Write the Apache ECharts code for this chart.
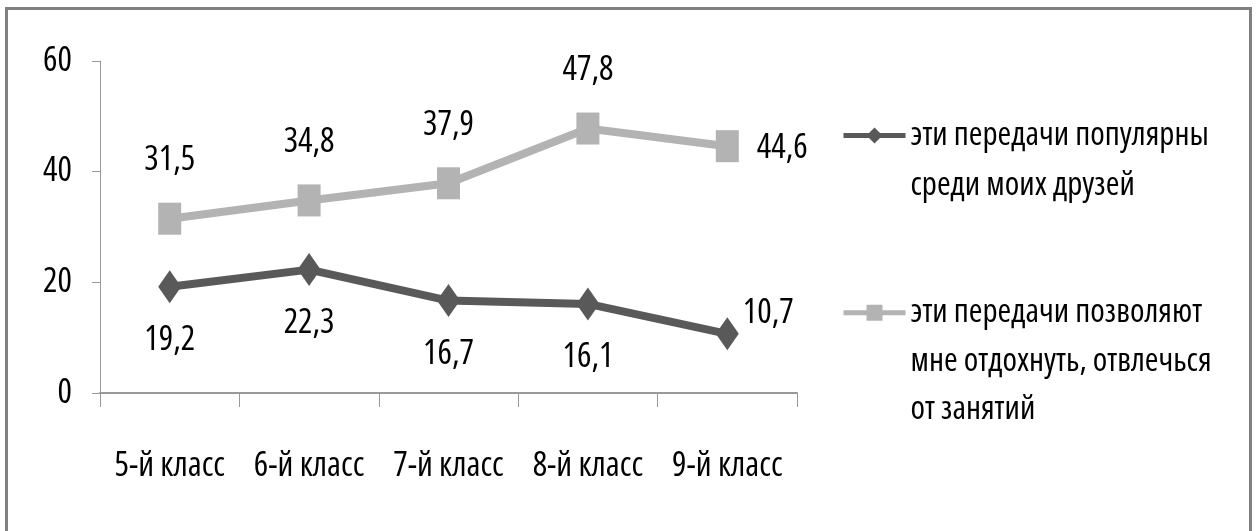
<!DOCTYPE html>
<html>
<head>
<meta charset="utf-8">
<script src="https://cdn.jsdelivr.net/npm/echarts@6/dist/echarts.min.js"></script>
<style>html,body{margin:0;padding:0;background:#fff}#c{width:1257px;height:531px}</style>
</head>
<body>
<div id="c"></div>
<script>
const categories = ['5-й класс', '6-й класс', '7-й класс', '8-й класс', '9-й класс'];
const popularValues = [19.2, 22.3, 16.7, 16.1, 10.7];
const relaxValues = [31.5, 34.8, 37.9, 47.8, 44.6];
const seriesNames = ['эти передачи популярны\nсреди моих друзей', 'эти передачи позволяют\nмне отдохнуть, отвлечься\nот занятий'];
const yTicks = [0, 20, 40, 60];

const FONT = 'Open Sans';
const STRETCH = 'condensed';
const DARK = '#595959', LIGHT = '#b3b3b3';
const fmt = p => String(p.value).replace('.', ',');

function buildData(values, lastLabel) {
  return values.map((v, i) => i === values.length - 1 ? { value: v, label: lastLabel } : { value: v });
}
// align the first legend line with the icon by padding the text block with leading blank lines
const legendFmt = name => '\n'.repeat(name.split('\n').length - 1) + name;

const txt = (size, extra) => Object.assign({ color: '#000', fontSize: size, fontFamily: FONT, fontStyle: STRETCH }, extra || {});

const chart = echarts.init(document.getElementById('c'));
chart.setOption({
  animation: false,
  graphic: [{
    type: 'rect', shape: { x: 6.5, y: 8.5, width: 1244, height: 540 },
    style: { fill: 'none', stroke: '#808080', lineWidth: 3 }, silent: true
  }],
  grid: { left: 100, top: 61, right: 460, bottom: 138 },
  xAxis: {
    type: 'category', data: categories, boundaryGap: true,
    axisLine: { lineStyle: { color: '#999', width: 2 } },
    axisTick: { show: true, length: 14, lineStyle: { color: '#999', width: 1 } },
    axisLabel: txt(34, { margin: 56, interval: 0 })
  },
  yAxis: {
    type: 'value', min: yTicks[0], max: yTicks[yTicks.length - 1], interval: 20,
    splitLine: { show: false },
    axisLine: { show: true, lineStyle: { color: '#999', width: 1 } },
    axisTick: { show: true, length: 8, lineStyle: { color: '#999' } },
    axisLabel: txt(34, { margin: 28 })
  },
  legend: [
    {
      left: 836, top: 53, orient: 'vertical', itemWidth: 62, itemHeight: 20,
      data: [seriesNames[0]], formatter: legendFmt,
      lineStyle: { width: 5 },
      textStyle: txt(33, { lineHeight: 50, padding: [5, 0, 0, 0] })
    },
    {
      left: 836, top: 184, orient: 'vertical', itemWidth: 62, itemHeight: 20,
      data: [seriesNames[1]], formatter: legendFmt,
      lineStyle: { width: 5 },
      textStyle: txt(33, { lineHeight: 48.5, padding: [5, 0, 0, 0] })
    }
  ],
  series: [
    {
      name: seriesNames[0], type: 'line', data: buildData(popularValues, { position: 'right', distance: 4, offset: [0, -20] }),
      color: DARK, lineStyle: { width: 8, color: DARK }, itemStyle: { color: DARK },
      symbol: 'diamond', symbolSize: [23, 33],
      label: txt(34, { show: true, position: 'bottom', distance: 20, formatter: fmt })
    },
    {
      name: seriesNames[1], type: 'line', data: buildData(relaxValues, { position: 'right', distance: 18, offset: [0, 2] }),
      color: LIGHT, lineStyle: { width: 8, color: LIGHT }, itemStyle: { color: LIGHT },
      symbol: 'rect', symbolSize: [23, 32],
      label: txt(34, { show: true, position: 'top', distance: 25, formatter: fmt })
    }
  ]
});
</script>
</body>
</html>
